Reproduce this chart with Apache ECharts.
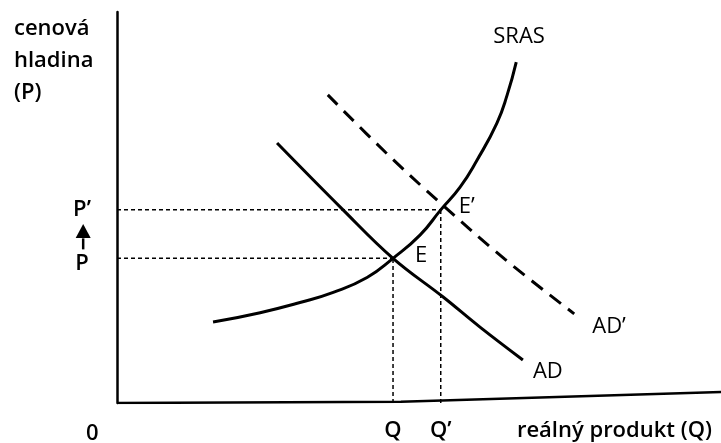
<!DOCTYPE html>
<html>
<head>
<meta charset="utf-8">
<script src="https://cdn.jsdelivr.net/npm/echarts@6/dist/echarts.min.js"></script>
<style>
html,body{margin:0;padding:0;background:#fff;}
#chart{width:721px;height:443px;}
</style>
</head>
<body>
<div id="chart"></div>
<script>
// Data (arbitrary units: Q on x 0..100, P on y 0..100)
const srasCurve = [[15.9,20.7],[23.7,23.1],[30.3,25.7],[35.8,28.3],[41.4,32.1],[45.7,37.0],[50.2,43.0],[53.6,49.4],[56.8,55.2],[59.6,62.1],[62.9,71.6],[64.6,78.8],[66.1,87.2]];
const adCurve = [[26.5,66.5],[37.3,49.6],[45.7,37.0],[54.0,27.1],[60.1,19.4],[67.2,11.0]];
const adPrimeCurve = [[34.9,78.8],[44.4,64.2],[53.5,51.2],[64.2,36.8],[75.7,22.8]];
const eqE = [45.7,37.0];
const eqEPrime = [53.6,49.4];
const baseAxis = [[0,0],[47,0.3],[100,2.8]];
const arrowStem = [-5.6,40.7];
const arrowHead = [-5.6,44.0];
const yTickLabels = ['P','P’'];
const xTickLabels = ['Q','Q’'];
const curveNames = ['SRAS','AD','AD’'];
const pointNames = ['E','E’'];

const FONT = 'Open Sans';
const TXT = {fontFamily: FONT, fontSize: 22, fontWeight: 600, color: '#000'};
const LBL = {fontFamily: FONT, fontSize: 22, fontWeight: 500, color: '#000'};
const guide = {color:'#000', width:1.5, type:[4,3]};

function guideSeries(pts){
  return {type:'line', data:pts, symbol:'none', lineStyle:guide, silent:true, z:1};
}

const chart = echarts.init(document.getElementById('chart'), null, {renderer:'canvas'});
chart.setOption({
  backgroundColor:'#fff',
  animation:false,
  title:[
    {text:'cenová\nhladina\n(P)', left:9, top:8, textStyle:Object.assign({}, TXT, {lineHeight:32})},
    {text:'0', left:81, top:418, textStyle:TXT},
    {text:'reálný produkt (Q)', right:4, top:415, textStyle:TXT}
  ],
  grid:{left:117, right:0, top:12, bottom:40},
  xAxis:{
    type:'value', min:0, max:100,
    axisLine:{show:false}, axisTick:{show:false}, splitLine:{show:false},
    axisLabel:{
      customValues:[eqE[0], eqEPrime[0]],
      formatter:function(v){ return v===eqE[0] ? xTickLabels[0] : xTickLabels[1]; },
      margin:17, fontFamily:FONT, fontSize:22, fontWeight:600, color:'#000'
    }
  },
  yAxis:{
    type:'value', min:0, max:100,
    axisLine:{show:true, lineStyle:{color:'#000', width:2.5}},
    axisTick:{show:false}, splitLine:{show:false},
    axisLabel:{
      customValues:[eqE[1], eqEPrime[1]],
      formatter:function(v){ return v===eqE[1] ? '{p|' + yTickLabels[0] + '}' : yTickLabels[1]; },
      rich:{p:{fontFamily:FONT, fontSize:22, fontWeight:600, color:'#000', padding:[10,0,0,0]}},
      align:'center', margin:35, fontFamily:FONT, fontSize:22, fontWeight:600, color:'#000'
    }
  },
  series:[
    {type:'line', data:baseAxis, symbol:'none', lineStyle:{color:'#000', width:2.5}, silent:true},
    guideSeries([[0,eqE[1]], eqE]),
    guideSeries([[eqE[0],0], eqE]),
    guideSeries([[0,eqEPrime[1]], eqEPrime]),
    guideSeries([[eqEPrime[0],0], eqEPrime]),
    {type:'line', name:curveNames[0], data:srasCurve, symbol:'none', smooth:0.5,
     lineStyle:{color:'#000', width:3}, z:3,
     endLabel:Object.assign({show:true, formatter:curveNames[0], align:'left', distance:0, offset:[-23,-25]}, LBL)},
    {type:'line', name:curveNames[1], data:adCurve, symbol:'none', smooth:0.4,
     lineStyle:{color:'#000', width:3}, z:3,
     endLabel:Object.assign({show:true, formatter:curveNames[1], distance:10, offset:[0,12]}, LBL)},
    {type:'line', name:curveNames[2], data:adPrimeCurve, symbol:'none', smooth:0.4,
     lineStyle:{color:'#000', width:3, type:[14,9]}, z:3,
     endLabel:Object.assign({show:true, formatter:curveNames[2], distance:18, offset:[0,13]}, LBL)},
    {type:'scatter', data:[
       {value:eqE, label:{show:true, formatter:pointNames[0], position:'right', distance:22, offset:[0,-3]}},
       {value:eqEPrime, label:{show:true, formatter:pointNames[1], position:'right', distance:18, offset:[0,-3]}}
     ], symbolSize:0, itemStyle:{color:'#000', opacity:1},
     label:LBL, z:4, silent:true},
    {type:'scatter', data:[arrowStem], symbol:'rect', symbolSize:[2.5,11], clip:false, itemStyle:{color:'#000', opacity:1}, silent:true},
    {type:'scatter', data:[arrowHead], symbol:'triangle', symbolSize:[15,14], clip:false, itemStyle:{color:'#000', opacity:1}, silent:true}
  ]
});
</script>
</body>
</html>
